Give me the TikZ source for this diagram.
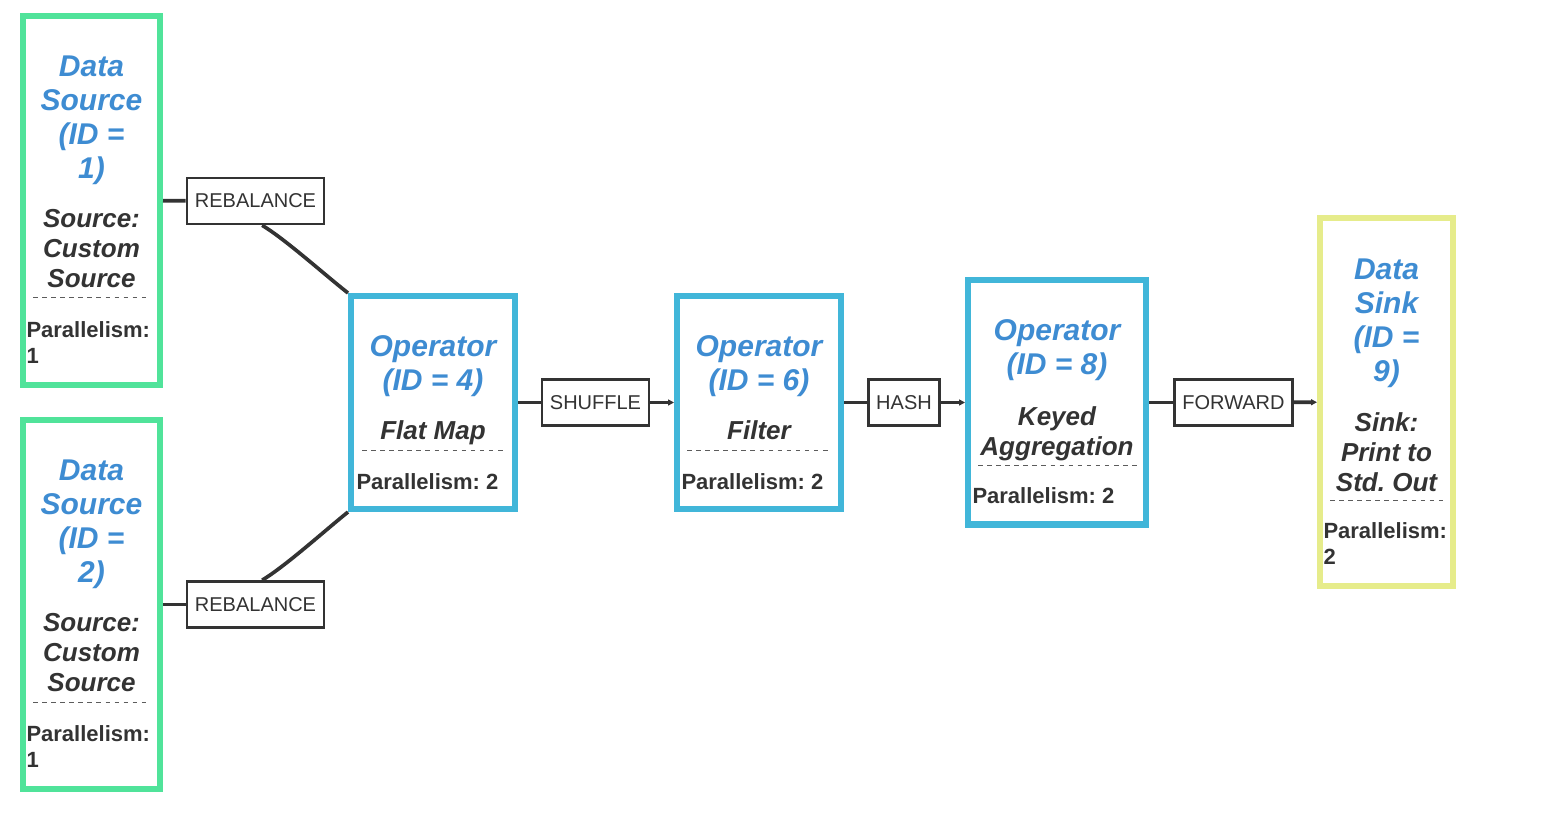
\documentclass[tikz,border=0pt]{standalone}
\usepackage{fontspec}
\setmainfont{Liberation Sans}
\usetikzlibrary{arrows.meta}
\frenchspacing

\definecolor{srcgreen}{RGB}{80,227,154}
\definecolor{opblue}{RGB}{65,182,217}
\definecolor{sinkyellow}{RGB}{230,236,139}
\definecolor{ttlblue}{RGB}{62,140,210}
\definecolor{inkgray}{RGB}{51,51,51}

\tikzset{every picture/.style={line width=0.75pt},
  box/.style={draw, line width=4.5pt, inner sep=0pt},
  srcbox/.style={box, draw=srcgreen, minimum width=102.75pt, minimum height=276.75pt},
  opbox/.style={box, draw=opblue, minimum width=123pt, minimum height=159.75pt},
  sinkbox/.style={box, draw=sinkyellow, minimum width=99.75pt, minimum height=276pt},
  edgelbl/.style={draw=inkgray, line width=2pt, fill=white, text=inkgray, inner xsep=6pt, inner ysep=0pt, minimum height=34.5pt, font=\fontsize{15}{18}\selectfont},
  ttl/.style={anchor=north, inner sep=0pt, align=center, text=ttlblue, font=\fontsize{22.5}{25.5}\selectfont\bfseries\itshape},
  nametxt/.style={anchor=north, inner sep=0pt, align=center, text=inkgray, font=\fontsize{19.5}{22.5}\selectfont\bfseries\itshape},
  partxt/.style={anchor=north west, inner sep=0pt, align=left, text=inkgray, font=\fontsize{16.5}{19.5}\selectfont\bfseries},
  divline/.style={draw=inkgray!80, line width=0.75pt, dash pattern={on 3.4pt off 3.4pt}},
  wire/.style={draw=inkgray, line width=2.75pt},
  tip/.style={-{Triangle[length=4.5pt,width=4.5pt]}}
}

\begin{document}
\begin{tikzpicture}[x=0.75pt,y=0.75pt,yscale=-1,xscale=1]
\useasboundingbox (0,0) rectangle (1550,816);

%Shape: Rectangle [sources, operators, sink]
\node [srcbox] (src1) at (91.5,200.5) {};
\node [srcbox] (src2) at (91.5,604.5) {};
\node [opbox] (op4) at (433,402.5) {};
\node [opbox] (op6) at (759,402.5) {};
\node [opbox, minimum width=133.5pt, minimum height=183pt] (op8) at (1057,402.5) {};
\node [sinkbox] (sink) at (1386.5,402) {};

%Shape: Rectangle [partitioning labels]
\node [edgelbl] (reb1) at (255.5,201) {REBALANCE};
\node [edgelbl] (reb2) at (255.5,604.5) {REBALANCE};
\node [edgelbl] (shuf) at (595.5,402.5) {SHUFFLE};
\node [edgelbl] (hash) at (904,402.5) {HASH};
\node [edgelbl] (fwd) at (1233.5,402.5) {FORWARD};

%Straight Lines
\draw [wire] (src1) -- (reb1) ;
\draw [wire] (src2) -- (reb2) ;
%Curve Lines
\draw [wire] ([xshift=5pt]reb1.south) .. controls (285,239) and (325,275) .. (op4.north west) ;
\draw [wire] ([xshift=5pt]reb2.north) .. controls (285,566.5) and (325,530.5) .. (op4.south west) ;
%Straight Lines
\draw [wire] (op4) -- (shuf) ;
\draw [wire, tip] (shuf) -- (op6) ;
\draw [wire] (op6) -- (hash) ;
\draw [wire, tip] (hash) -- (op8) ;
\draw [wire] (op8) -- (fwd) ;
\draw [wire, tip] (fwd) -- (sink) ;

% Text Node
\node [ttl] (src1t) at (91.5,55) {Data\\Source\\(ID =\\1)};
\node [nametxt] (src1n) at (91.5,209) {Source:\\Custom\\Source};
\draw [divline] (33,298) -- (150,298) ;
\node [partxt] (src1p) at (26,321) {Parallelism:\\1};
% Text Node
\node [ttl] (src2t) at (91.5,459) {Data\\Source\\(ID =\\2)};
\node [nametxt] (src2n) at (91.5,613) {Source:\\Custom\\Source};
\draw [divline] (33,702) -- (150,702) ;
\node [partxt] (src2p) at (26,725) {Parallelism:\\1};
% Text Node
\node [ttl] (op4t) at (433,335) {Operator\\(ID = 4)};
\node [nametxt] (op4n) at (433,420) {Flat Map};
\draw [divline] (362,451) -- (505,451) ;
\node [partxt] (op4p) at (356,473) {Parallelism: 2};
% Text Node
\node [ttl] (op6t) at (759,335) {Operator\\(ID = 6)};
\node [nametxt] (op6n) at (759,420) {Filter};
\draw [divline] (687,451) -- (832,451) ;
\node [partxt] (op6p) at (681,473) {Parallelism: 2};
% Text Node
\node [ttl] (op8t) at (1057,319) {Operator\\(ID = 8)};
\node [nametxt] (op8n) at (1057,406) {Keyed\\Aggregation};
\draw [divline] (978,466) -- (1137,466) ;
\node [partxt] (op8p) at (972,487) {Parallelism: 2};
% Text Node
\node [ttl] (sinkt) at (1386.5,258) {Data\\Sink\\(ID =\\9)};
\node [nametxt] (sinkn) at (1386.5,412) {Sink:\\Print to\\Std. Out};
\draw [divline] (1330,501) -- (1443,501) ;
\node [partxt] (sinkp) at (1323,522) {Parallelism:\\2};

\end{tikzpicture}
\end{document}
